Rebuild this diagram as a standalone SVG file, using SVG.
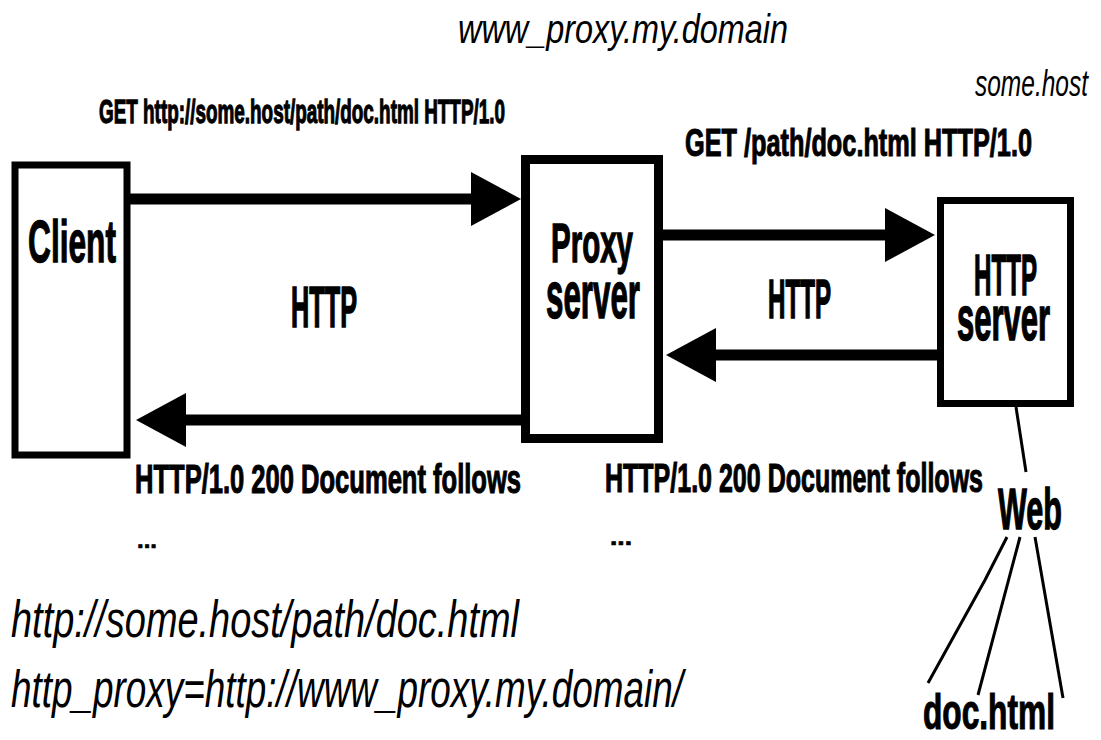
<svg xmlns="http://www.w3.org/2000/svg" width="1101" height="740" viewBox="0 0 1101 740">
<style>
.b{font-family:"Liberation Sans",Arial,sans-serif;font-weight:bold;fill:#000;stroke:#000;stroke-width:0.7}
.i{font-family:"Liberation Sans",Arial,sans-serif;font-style:italic;fill:#000}
.box{fill:#fff;stroke:#000}
.arr{stroke:#000;stroke-width:11;fill:none;marker-end:url(#head)}
.thin{stroke:#000;stroke-width:3;fill:none}
</style>
<defs>
<marker id="head" viewBox="0 0 50 54" refX="2" refY="27" markerWidth="50" markerHeight="54" markerUnits="userSpaceOnUse" orient="auto">
<path d="M0,0 L50,27 L0,54 z" fill="#000"/>
</marker>
</defs>
<rect width="1101" height="740" fill="#fff"/>

<g id="client">
<rect class="box" x="15" y="165" width="112" height="290" stroke-width="7"/>
<text class="b" transform="translate(28,262) scale(1,1.85)" font-size="31.7" textLength="88" lengthAdjust="spacingAndGlyphs">Client</text>
</g>

<g id="proxy">
<rect class="box" x="525.5" y="159.5" width="133" height="279" stroke-width="9"/>
<text class="b" transform="scale(1,2)"><tspan x="551" y="131" font-size="28" textLength="82" lengthAdjust="spacingAndGlyphs">Proxy</tspan><tspan x="546" y="159" font-size="33" textLength="94" lengthAdjust="spacingAndGlyphs">server</tspan></text>
</g>

<g id="httpserver">
<rect class="box" x="940.5" y="200.5" width="130" height="203" stroke-width="7"/>
<text class="b" transform="scale(1,2.2)"><tspan x="974" y="134.09" font-size="26" textLength="63" lengthAdjust="spacingAndGlyphs">HTTP</tspan><tspan x="957" y="154.55" font-size="29" textLength="93" lengthAdjust="spacingAndGlyphs">server</tspan></text>
</g>

<g id="web">
<text class="b" transform="translate(998,529) scale(1,1.9)" font-size="30.3" textLength="64" lengthAdjust="spacingAndGlyphs">Web</text>
</g>

<g id="dochtml">
<text class="b" transform="translate(923,729) scale(1,1.6)" font-size="31.7" textLength="132" lengthAdjust="spacingAndGlyphs">doc.html</text>
</g>

<g id="connectors">
<line class="arr" x1="130" y1="199" x2="473" y2="199"/>
<line class="arr" x1="521" y1="420" x2="184" y2="420"/>
<line class="arr" x1="663" y1="235" x2="887" y2="235"/>
<line class="arr" x1="937" y1="355" x2="714" y2="355"/>
<line class="thin" x1="1016" y1="407" x2="1026" y2="472" stroke-width="2.5"/>
<polyline class="thin" points="1007,537 985,580 928,683"/>
<line class="thin" x1="1020" y1="537" x2="978" y2="695"/>
<line class="thin" x1="1035" y1="537" x2="1063" y2="698"/>
</g>

<g id="labels">
<text class="i" transform="translate(458,43) scale(1,1.3)" font-size="31.9" textLength="330" lengthAdjust="spacingAndGlyphs">www_proxy.my.domain</text>
<text class="i" transform="translate(975,96) scale(1,1.5)" font-size="24.5" textLength="113" lengthAdjust="spacingAndGlyphs">some.host</text>
<text class="b" transform="translate(99,123) scale(1,1.8)" font-size="18.9" textLength="406" lengthAdjust="spacingAndGlyphs">GET http://some.host/path/doc.html HTTP/1.0</text>
<text class="b" transform="translate(685,156) scale(1,1.5)" font-size="25.3" textLength="347" lengthAdjust="spacingAndGlyphs">GET /path/doc.html HTTP/1.0</text>
<text class="b" transform="translate(291,327) scale(1,2.3)" font-size="25.3" textLength="66" lengthAdjust="spacingAndGlyphs">HTTP</text>
<text class="b" transform="translate(768,318) scale(1,2.3)" font-size="24.1" textLength="63" lengthAdjust="spacingAndGlyphs">HTTP</text>
<text class="b" transform="translate(135,493) scale(1,1.6)" font-size="25.5" textLength="386" lengthAdjust="spacingAndGlyphs">HTTP/1.0 200 Document follows</text>
<text class="b" transform="translate(605,492) scale(1,1.6)" font-size="25" textLength="378" lengthAdjust="spacingAndGlyphs">HTTP/1.0 200 Document follows</text>
<text class="b" transform="translate(137,548)" font-size="22" textLength="20" lengthAdjust="spacingAndGlyphs">...</text>
<text class="b" transform="translate(610,545)" font-size="22" textLength="22" lengthAdjust="spacingAndGlyphs">...</text>
<text class="i" transform="translate(11,637) scale(1,1.36)" font-size="37.9" textLength="508" lengthAdjust="spacingAndGlyphs">http://some.host/path/doc.html</text>
<text class="i" transform="translate(11,707) scale(1,1.4)" font-size="36.6" textLength="672" lengthAdjust="spacingAndGlyphs">http_proxy=http://www_proxy.my.domain/</text>
</g>
</svg>
